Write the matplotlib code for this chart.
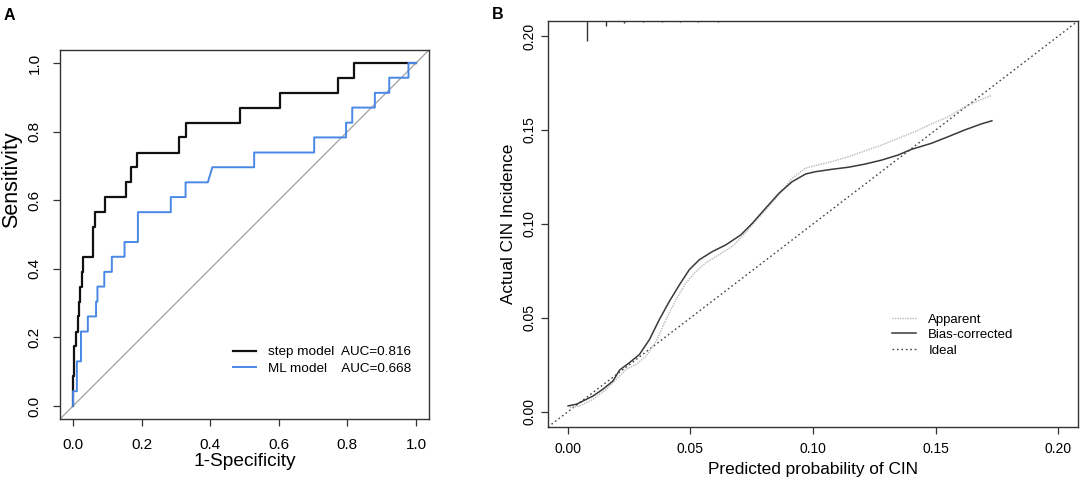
import matplotlib
matplotlib.use("Agg")
import matplotlib.pyplot as plt

plt.rcParams['font.family'] = ['Liberation Sans', 'DejaVu Sans']

# ---------------- Panel A: ROC curves ----------------
step_fpr = [0.000, 0.000, 0.003, 0.003, 0.009, 0.009, 0.013, 0.013, 0.016, 0.016, 0.020, 0.020,
            0.025, 0.025, 0.029, 0.029, 0.059, 0.059, 0.064, 0.064, 0.094, 0.094, 0.154, 0.154,
            0.169, 0.169, 0.185, 0.185, 0.308, 0.308, 0.328, 0.328, 0.487, 0.487, 0.603, 0.603,
            0.772, 0.772, 0.818, 0.818, 1.000]
step_tpr = [0.000, 0.087, 0.087, 0.174, 0.174, 0.217, 0.217, 0.261, 0.261, 0.304, 0.304, 0.348,
            0.348, 0.391, 0.391, 0.435, 0.435, 0.522, 0.522, 0.565, 0.565, 0.609, 0.609, 0.652,
            0.652, 0.696, 0.696, 0.739, 0.739, 0.783, 0.783, 0.826, 0.826, 0.870, 0.870, 0.913,
            0.913, 0.957, 0.957, 1.000, 1.000]

ml_fpr = [0.000, 0.000, 0.011, 0.011, 0.023, 0.023, 0.043, 0.043, 0.067, 0.067, 0.071, 0.071,
          0.091, 0.091, 0.113, 0.113, 0.150, 0.150, 0.189, 0.189, 0.285, 0.285, 0.328, 0.328,
          0.393, 0.406, 0.528, 0.528, 0.703, 0.703, 0.796, 0.796, 0.814, 0.814, 0.880, 0.880,
          0.922, 0.922, 0.978, 0.978, 1.000]
ml_tpr = [0.000, 0.043, 0.043, 0.130, 0.130, 0.217, 0.217, 0.261, 0.261, 0.304, 0.304, 0.348,
          0.348, 0.391, 0.391, 0.435, 0.435, 0.478, 0.478, 0.565, 0.565, 0.609, 0.609, 0.652,
          0.652, 0.696, 0.696, 0.739, 0.739, 0.783, 0.783, 0.826, 0.826, 0.870, 0.870, 0.913,
          0.913, 0.957, 0.957, 1.000, 1.000]

roc_labels = ["step model  AUC=0.816", "ML model    AUC=0.668"]
roc_ticks = [0.0, 0.2, 0.4, 0.6, 0.8, 1.0]
roc_ticklabels = ["0.0", "0.2", "0.4", "0.6", "0.8", "1.0"]

# ---------------- Panel B: calibration curve ----------------
app_x = [0.0009, 0.0049, 0.0104, 0.0158, 0.0198, 0.0239, 0.0280, 0.0320, 0.0361, 0.0401, 0.0442,
         0.0482, 0.0523, 0.0563, 0.0617, 0.0671, 0.0712, 0.0753, 0.0807, 0.0861, 0.0915, 0.0969,
         0.1023, 0.1077, 0.1145, 0.1213, 0.1280, 0.1347, 0.1415, 0.1482, 0.1550, 0.1618, 0.1685,
         0.1729]
app_y = [0.0023, 0.0032, 0.0067, 0.0120, 0.0173, 0.0227, 0.0253, 0.0297, 0.0377, 0.0492, 0.0598,
         0.0686, 0.0748, 0.0793, 0.0837, 0.0881, 0.0934, 0.0996, 0.1075, 0.1155, 0.1243, 0.1297,
         0.1315, 0.1332, 0.1358, 0.1390, 0.1420, 0.1456, 0.1491, 0.1532, 0.1570, 0.1623, 0.1662,
         0.1685]

bc_x = [0.0002, 0.0036, 0.0104, 0.0144, 0.0185, 0.0212, 0.0252, 0.0293, 0.0334, 0.0374, 0.0415,
        0.0456, 0.0496, 0.0537, 0.0591, 0.0645, 0.0706, 0.0753, 0.0807, 0.0861, 0.0915, 0.0970,
        0.1010, 0.1077, 0.1145, 0.1213, 0.1280, 0.1347, 0.1401, 0.1482, 0.1550, 0.1618, 0.1685,
        0.1729]
bc_y = [0.0032, 0.0041, 0.0085, 0.0121, 0.0165, 0.0223, 0.0262, 0.0306, 0.0386, 0.0492, 0.0589,
        0.0677, 0.0757, 0.0810, 0.0854, 0.0889, 0.0942, 0.1004, 0.1084, 0.1163, 0.1225, 0.1266,
        0.1278, 0.1291, 0.1302, 0.1319, 0.1340, 0.1367, 0.1397, 0.1429, 0.1464, 0.1500, 0.1532,
        0.1549]

# spike histogram of predicted probabilities (top of panel B)
hist_x = [0.0079, 0.0155, 0.0231, 0.0306, 0.0383, 0.0458, 0.0533, 0.0611]
hist_n = [100, 24, 9, 5, 4, 3, 3, 3]

cal_labels = ["Apparent", "Bias-corrected", "Ideal"]
cal_ticks = [0.00, 0.05, 0.10, 0.15, 0.20]
cal_ticklabels = ["0.00", "0.05", "0.10", "0.15", "0.20"]

# ---------------- Figure ----------------
fig = plt.figure(figsize=(10.84, 4.79), dpi=100)
axA = fig.add_axes([0.0554, 0.1253, 0.3404, 0.7704])
axB = fig.add_axes([0.5055, 0.1086, 0.4890, 0.8476])

spine_col = "#333333"

# Panel A
lim = (-0.038, 1.038)
axA.set_xlim(lim)
axA.set_ylim(lim)
axA.axline((0, 0), slope=1, color="#a0a0a0", lw=0.9, zorder=1)
hA1, = axA.plot(step_fpr, step_tpr, color="#111111", lw=1.6, zorder=3)
hA2, = axA.plot(ml_fpr, ml_tpr, color="#4a88e6", lw=1.4, zorder=4)
axA.set_xticks(roc_ticks)
axA.set_xticklabels(roc_ticklabels)
axA.set_yticks(roc_ticks)
axA.set_yticklabels(roc_ticklabels, rotation=90, va="center")
axA.tick_params(axis="both", direction="out", length=4.8, width=0.9, color=spine_col,
                labelsize=11)
axA.tick_params(axis="x", pad=9.0)
axA.tick_params(axis="y", pad=8.5)
for s in axA.spines.values():
    s.set_color(spine_col)
    s.set_linewidth(1.0)
axA.set_xlabel("1-Specificity", fontsize=13.8)
axA.set_ylabel("Sensitivity", fontsize=15.5)
axA.xaxis.set_label_coords(0.5, -0.093)
axA.yaxis.set_label_coords(-0.103, 0.648)
axA.legend([hA1, hA2], roc_labels, loc="center left", bbox_to_anchor=(0.468, 0.159),
           frameon=False, fontsize=9.7, handlelength=1.73, handletextpad=0.91,
           labelspacing=0.3, borderpad=0, borderaxespad=0)

# Panel B
limB = (-0.008, 0.208)
axB.set_xlim(limB)
axB.set_ylim(limB)
hB3 = axB.axline((0, 0), slope=1, color="#444444", lw=1.0, linestyle=(0, (1.2, 2.0)), zorder=1)
hB1, = axB.plot(app_x, app_y, color="#b8b8b8", lw=1.0, linestyle=(0, (1.0, 0.8)), zorder=2)
hB2, = axB.plot(bc_x, bc_y, color="#3a3a3a", lw=1.1, zorder=3)
ytop = limB[1]
nmax = max(hist_n)
axB.vlines(hist_x, [ytop - 0.0106 * n / nmax for n in hist_n], ytop, color="#333333", lw=1.0)
axB.set_xticks(cal_ticks)
axB.set_xticklabels(cal_ticklabels)
axB.set_yticks(cal_ticks)
axB.set_yticklabels(cal_ticklabels, rotation=90, va="center")
axB.tick_params(axis="both", direction="out", length=5.0, width=0.9, color=spine_col,
                labelsize=10)
axB.tick_params(axis="x", pad=5.5)
axB.tick_params(axis="y", pad=3.6)
for s in axB.spines.values():
    s.set_color(spine_col)
    s.set_linewidth(1.0)
axB.set_xlabel("Predicted probability of CIN", fontsize=12.4)
axB.set_ylabel("Actual CIN Incidence", fontsize=12.3)
axB.xaxis.set_label_coords(0.5, -0.0862)
axB.yaxis.set_label_coords(-0.0604, 0.5)
axB.legend([hB1, hB2, hB3], cal_labels, loc="center left", bbox_to_anchor=(0.6485, 0.2266),
           frameon=False, fontsize=9.5, handlelength=1.84, handletextpad=0.93,
           labelspacing=0.25, borderpad=0, borderaxespad=0)

fig.text(4 / 1084, 1 - 8.3 / 479, "A", fontsize=11.5, fontweight="bold", ha="left", va="top")
fig.text(491.7 / 1084, 1 - 7.3 / 479, "B", fontsize=11.5, fontweight="bold", ha="left", va="top")

fig.savefig("out.png", dpi=100)
